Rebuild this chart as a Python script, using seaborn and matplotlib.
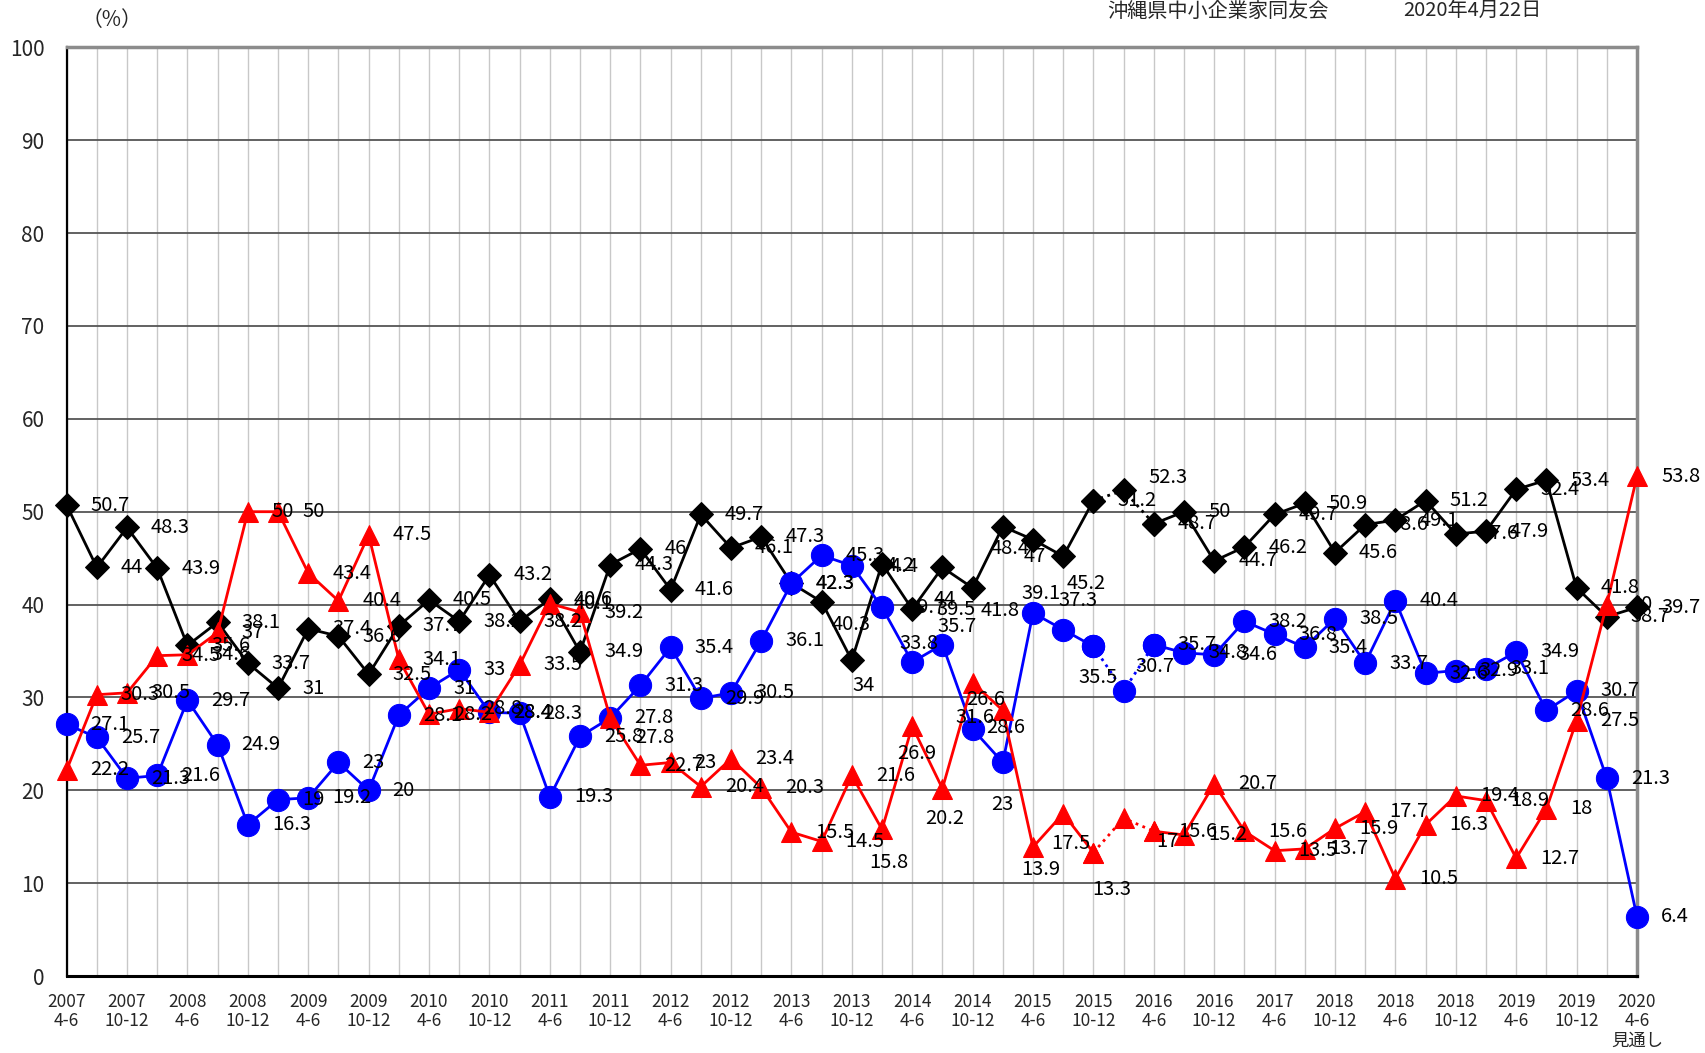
import matplotlib
matplotlib.use('Agg')
import matplotlib.pyplot as plt
import seaborn as sns
import pandas as pd

# 四半期 (2007 4-6 〜 2020 4-6 見通し)
quarters = ['2007\n4-6', '', '2007\n10-12', '', '2008\n4-6', '', '2008\n10-12', '',
            '2009\n4-6', '', '2009\n10-12', '', '2010\n4-6', '', '2010\n10-12', '',
            '2011\n4-6', '', '2011\n10-12', '', '2012\n4-6', '', '2012\n10-12', '',
            '2013\n4-6', '', '2013\n10-12', '', '2014\n4-6', '', '2014\n10-12', '',
            '2015\n4-6', '', '2015\n10-12', '', '2016\n4-6', '', '2016\n10-12', '',
            '2017\n4-6', '', '2018\n10-12', '', '2018\n4-6', '', '2018\n10-12', '',
            '2019\n4-6', '', '2019\n10-12', '', '2020\n4-6\n見通し']

black_vals = [50.7, 44, 48.3, 43.9, 35.6, 38.1, 33.7, 31, 37.4, 36.6,
              32.5, 37.7, 40.5, 38.2, 43.2, 38.2, 40.6, 34.9, 44.3, 46,
              41.6, 49.7, 46.1, 47.3, 42.3, 40.3, 34, 44.4, 39.5, 44,
              41.8, 48.4, 47, 45.2, 51.2, 52.3, 48.7, 50, 44.7, 46.2,
              49.7, 50.9, 45.6, 48.6, 49.1, 51.2, 47.6, 47.9, 52.4, 53.4,
              41.8, 38.7, 39.7]

blue_vals = [27.1, 25.7, 21.3, 21.6, 29.7, 24.9, 16.3, 19, 19.2, 23,
             20, 28.1, 31, 33, 28.4, 28.3, 19.3, 25.8, 27.8, 31.3,
             35.4, 29.9, 30.5, 36.1, 42.3, 45.3, 44.2, 39.7, 33.8, 35.7,
             26.6, 23, 39.1, 37.3, 35.5, 30.7, 35.7, 34.8, 34.6, 38.2,
             36.8, 35.4, 38.5, 33.7, 40.4, 32.6, 32.9, 33.1, 34.9, 28.6,
             30.7, 21.3, 6.4]

red_vals = [22.2, 30.3, 30.5, 34.5, 34.6, 37, 50, 50, 43.4, 40.4,
            47.5, 34.1, 28.2, 28.8, 28.4, 33.5, 40.1, 39.2, 27.8, 22.7,
            23, 20.4, 23.4, 20.3, 15.5, 14.5, 21.6, 15.8, 26.9, 20.2,
            31.6, 28.6, 13.9, 17.5, 13.3, 17, 15.6, 15.2, 20.7, 15.6,
            13.5, 13.7, 15.9, 17.7, 10.5, 16.3, 19.4, 18.9, 12.7, 18,
            27.5, 40, 53.8]

header_org = '沖縄県中小企業家同友会'
header_date = '2020年4月22日'
unit_label = '（%）'

# ラベル位置の個別調整 (ピクセル, 中心基準)
label_nudge = {
    ('black', 25): (30, -23), ('black', 26): (12, -25), ('black', 27): (17, -3),
    ('black', 29): (2, -32), ('black', 30): (28, -23), ('black', 31): (7, -22),
    ('black', 32): (2, -17), ('black', 33): (23, -27), ('black', 35): (44, 13),
    ('blue', 28): (7, 19), ('blue', 29): (15, 18), ('blue', 30): (13, 30),
    ('blue', 31): (0, -42), ('blue', 32): (8, 19), ('blue', 33): (15, 29),
    ('blue', 34): (5, -31), ('blue', 35): (31, 24),
    ('red', 18): (45, -20), ('red', 27): (7, -33), ('red', 28): (5, -27),
    ('red', 29): (2, -30), ('red', 30): (2, -35), ('red', 31): (3, -17),
    ('red', 32): (8, -22), ('red', 33): (8, -30), ('red', 34): (18, -37),
    ('red', 35): (44, -23),
}

sns.set_style('white')
plt.rcParams['font.family'] = ['Noto Sans CJK JP', 'DejaVu Sans']

fig = plt.figure(figsize=(17.05, 10.53), dpi=100)
ax = fig.add_axes([0.0391, 0.0730, 0.9210, 0.8821])

x = list(range(len(quarters)))
series = [
    ('black', black_vals, 'black', 'D', 12),
    ('blue', blue_vals, '#0000ff', 'o', 16),
    ('red', red_vals, '#ff0000', '^', 15),
]

brk = 34  # 34→35→36 は点線
for name, vals, color, marker, ms in series:
    df = pd.DataFrame({'x': x, 'v': vals})
    style = dict(color=color, marker=marker, markersize=ms, markeredgecolor=color,
                 linewidth=2, clip_on=False, zorder=3)
    sns.lineplot(data=df.iloc[:brk + 1], x='x', y='v', ax=ax, **style)
    sns.lineplot(data=df.iloc[brk + 2:], x='x', y='v', ax=ax, **style)
    sns.lineplot(data=df.iloc[brk:brk + 3], x='x', y='v', ax=ax, linestyle=':', **style)
    for i, v in enumerate(vals):
        key = (name, i)
        if key in label_nudge:
            dx, dy = label_nudge[key]
            ha = 'center'
        else:
            dx, dy = 24, 0
            ha = 'left'
        ax.annotate(f'{v:g}', (i, v), xytext=(dx, dy), textcoords='offset pixels',
                    ha=ha, va='center', fontsize=14.5, color='black', zorder=5,
                    annotation_clip=False)

ax.set_xlim(0, 52)
ax.set_ylim(0, 100)
ax.set_xlabel('')
ax.set_ylabel('')

ax.set_xticks(x)
ax.set_xticklabels(quarters, fontsize=12.5, linespacing=1.1,
                   family=['Liberation Sans Narrow', 'Noto Sans CJK JP'])
ax.set_xticks([i + 0.5 for i in range(52)], minor=True)
ax.tick_params(axis='x', which='major', length=0, pad=12)
ax.tick_params(axis='x', which='minor', direction='in', length=5, width=1, color='black')
ax.set_yticks(range(0, 101, 10))
ax.tick_params(axis='y', which='major', length=4, width=1, pad=12, labelsize=15)

ax.grid(axis='x', which='major', color='#c8c8c8', linewidth=1)
ax.grid(axis='y', which='major', color='#555555', linewidth=1.3)
ax.set_axisbelow(True)

ax.spines['left'].set_color('black')
ax.spines['left'].set_linewidth(1.6)
ax.spines['bottom'].set_color('black')
ax.spines['bottom'].set_linewidth(2.2)
ax.spines['top'].set_color('#8c8c8c')
ax.spines['top'].set_linewidth(2.5)
ax.spines['right'].set_color('#8c8c8c')
ax.spines['right'].set_linewidth(2.5)

fig.text(112 / 1705, 1 - 20 / 1053, unit_label, ha='center', va='center', fontsize=15)
fig.text(1107 / 1705, 1 - 11 / 1053, header_org, ha='left', va='center', fontsize=14.5)
fig.text(1403 / 1705, 1 - 11 / 1053, header_date, ha='left', va='center', fontsize=14.5)

fig.savefig('out.png', dpi=100)
